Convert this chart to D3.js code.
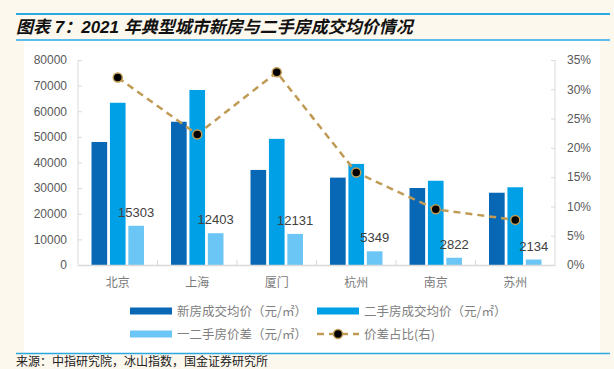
<!DOCTYPE html>
<html>
<head>
<meta charset="utf-8">
<script src="https://cdn.jsdelivr.net/npm/d3@7"></script>
<style>
html,body{margin:0;padding:0;background:#fdf8ee;}
svg{display:block;}
text{font-family:"Liberation Sans","Noto Sans CJK SC",Arial,sans-serif;}
</style>
</head>
<body>
<svg id="chart" width="614" height="369"></svg>
<script>
const title = "图表 7：2021 年典型城市新房与二手房成交均价情况";
const source = "来源：中指研究院，冰山指数，国金证券研究所";
const cities = ["北京","上海","厦门","杭州","南京","苏州"];
const newPrice = [48000, 55900, 37100, 34100, 30050, 28200];
const secondPrice = [63303, 68303, 49231, 39449, 32872, 30334];
const priceDiff = [15303, 12403, 12131, 5349, 2822, 2134];
const diffRatio = [0.320, 0.223, 0.329, 0.158, 0.095, 0.077];
const leftTicks = [0,10000,20000,30000,40000,50000,60000,70000,80000];
const rightTicks = [0,0.05,0.10,0.15,0.20,0.25,0.30,0.35];
const seriesNames = ["新房成交均价（元/㎡）","二手房成交均价（元/㎡）","一二手房价差（元/㎡）","价差占比(右)"];
const colors = ["#0868b6","#00a0e6","#6cc6f5"];
const lineColor = "#c09b55";

const svg = d3.select("#chart");

// frame
svg.append("rect").attr("x",24).attr("y",41).attr("width",576).attr("height",312).attr("fill","#ffffff");
svg.append("line").attr("x1",16).attr("x2",610).attr("y1",14).attr("y2",14).attr("stroke","#2aa8e2").attr("stroke-width",2);
svg.append("line").attr("x1",16).attr("x2",610).attr("y1",40).attr("y2",40).attr("stroke","#5cbdec").attr("stroke-width",2);
svg.append("line").attr("x1",16).attr("x2",610).attr("y1",353.5).attr("y2",353.5).attr("stroke","#2aa8e2").attr("stroke-width",1.5);
svg.append("text").attr("x",16).attr("y",33).attr("font-size",17).attr("font-weight","bold").attr("font-style","italic")
  .attr("fill","#111").style("font-family",'"Liberation Sans","Noto Sans CJK SC",sans-serif').text(title);
svg.append("text").attr("x",16).attr("y",366).attr("font-size",12).attr("fill","#222").style("font-family",'"Noto Sans CJK SC",sans-serif').text(source);

const x0 = 78, x1r = 555, yTop = 60, yBot = 265;
const x = d3.scaleBand().domain(cities).range([x0, x1r]).padding(0);
const groupW = x.bandwidth()*0.66;
const xs = d3.scaleBand().domain([0,1,2]).range([-groupW/2, groupW/2]).paddingInner(0.15);
const yL = d3.scaleLinear().domain([0,80000]).range([yBot,yTop]);
const yR = d3.scaleLinear().domain([0,0.35]).range([yBot,yTop]);

// axes lines
const axisColor = "#d9d9d9";
svg.append("line").attr("x1",x0).attr("x2",x0).attr("y1",yTop).attr("y2",yBot).attr("stroke",axisColor);
svg.append("line").attr("x1",x1r).attr("x2",x1r).attr("y1",yTop).attr("y2",yBot).attr("stroke",axisColor);

// left axis
const gl = svg.append("g").attr("transform",`translate(${x0},0)`)
  .call(d3.axisLeft(yL).tickValues(leftTicks).tickFormat(d3.format("d")).tickSize(-4).tickPadding(11));
gl.select(".domain").remove();
gl.selectAll("line").attr("stroke",axisColor);
gl.selectAll("text").attr("font-size",12).attr("fill","#595959").style("font-family","'Liberation Sans',Arial,sans-serif");

// right axis
const gr = svg.append("g").attr("transform",`translate(${x1r},0)`)
  .call(d3.axisRight(yR).tickValues(rightTicks).tickFormat(d3.format(".0%")).tickSize(-4).tickPadding(12));
gr.select(".domain").remove();
gr.selectAll("line").attr("stroke",axisColor);
gr.selectAll("text").attr("font-size",12).attr("fill","#595959").style("font-family","'Liberation Sans',Arial,sans-serif");

// bars
const seriesVals = [newPrice, secondPrice, priceDiff];
seriesVals.forEach((vals,si)=>{
  svg.append("g").selectAll("rect").data(cities).join("rect")
    .attr("x",d=>x(d)+x.bandwidth()/2+xs(si))
    .attr("width",xs.bandwidth())
    .attr("y",(d,i)=>yL(vals[i]))
    .attr("height",(d,i)=>yBot-yL(vals[i]))
    .attr("fill",colors[si]);
});

// bottom axis
const gb = svg.append("g").attr("transform",`translate(0,${yBot})`)
  .call(d3.axisBottom(x).tickSize(0).tickPadding(13));
gb.select(".domain").attr("stroke",axisColor).attr("stroke-width",1.5);
gb.selectAll("text").attr("font-size",12).attr("fill","#7a7a7a").style("font-family",'"Noto Sans CJK SC",sans-serif');
// category separator ticks
svg.append("g").selectAll("line").data(cities.slice(1)).join("line")
  .attr("x1",d=>x(d)).attr("x2",d=>x(d)).attr("y1",yBot-5).attr("y2",yBot).attr("stroke",axisColor);

// diff labels
svg.append("g").selectAll("text").data(cities).join("text")
  .attr("x",d=>x(d)+x.bandwidth()/2+xs(2)+xs.bandwidth()/2)
  .attr("y",(d,i)=>yL(priceDiff[i])-9)
  .attr("text-anchor","middle").attr("font-size",13).attr("fill","#404040")
  .style("font-family","'Liberation Sans',Arial,sans-serif")
  .text((d,i)=>priceDiff[i]);

// ratio line
const line = d3.line().x((d,i)=>x(cities[i])+x.bandwidth()/2).y(d=>yR(d));
svg.append("path").datum(diffRatio).attr("d",line).attr("fill","none")
  .attr("stroke",lineColor).attr("stroke-width",2.5).attr("stroke-dasharray","7,5");
svg.append("g").selectAll("circle").data(diffRatio).join("circle")
  .attr("cx",(d,i)=>x(cities[i])+x.bandwidth()/2).attr("cy",d=>yR(d)).attr("r",4.5)
  .attr("fill","#000").attr("stroke",lineColor).attr("stroke-width",1.5);

// legend
const leg = [
  {x:130,y:311,type:"bar",c:colors[0],t:seriesNames[0]},
  {x:317,y:311,type:"bar",c:colors[1],t:seriesNames[1]},
  {x:130,y:334,type:"bar",c:colors[2],t:seriesNames[2]},
  {x:317,y:334,type:"line",c:lineColor,t:seriesNames[3]}
];
leg.forEach(l=>{
  const g = svg.append("g");
  if(l.type==="bar"){
    g.append("rect").attr("x",l.x).attr("y",l.y-3.5).attr("width",42).attr("height",7).attr("fill",l.c);
  } else {
    g.append("line").attr("x1",l.x).attr("x2",l.x+42).attr("y1",l.y).attr("y2",l.y)
      .attr("stroke",l.c).attr("stroke-width",2.5).attr("stroke-dasharray","7,5");
    g.append("circle").attr("cx",l.x+21).attr("cy",l.y).attr("r",4.5).attr("fill","#000").attr("stroke",l.c).attr("stroke-width",1.5);
  }
  g.append("text").attr("x",l.x+47).attr("y",l.y+4.5).attr("font-size",12.5).attr("fill","#808080")
    .style("font-family",'"Noto Sans CJK SC",sans-serif').text(l.t);
});
</script>
</body>
</html>
